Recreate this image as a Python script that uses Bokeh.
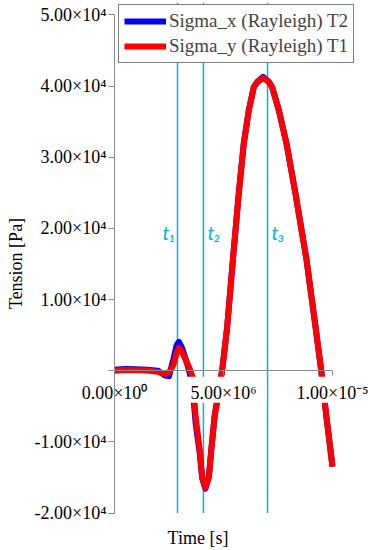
from bokeh.plotting import figure
from bokeh.models import LinearAxis, FixedTicker, Legend, LegendItem, Range1d
from bokeh.core.properties import value
from bokeh.embed import file_html
from bokeh.resources import INLINE

# ---------------- data ----------------
time_us = [0.0, 0.5, 1.0, 1.5, 2.0, 2.3, 2.5, 2.7, 2.85, 2.95,
           3.1, 3.3, 3.45, 3.58, 3.72, 3.91, 4.02, 4.17, 4.33, 4.44,
           4.59, 4.94, 5.17, 5.43, 5.70, 5.93, 6.16, 6.39, 6.55, 6.82,
           7.08, 7.23, 7.54, 7.89, 8.30, 8.81, 9.22, 9.48, 9.72, 10.0]
sigma_x_T2 = [150, 250, 200, 150, 0, -650, -750, 1600, 3600, 4070,
              3200, 1300, -300, -2300, -7300, -11600, -15100, -16550, -14900, -11080,
              -6450, 100, 6210, 15570, 24920, 31930, 36600, 39870, 40600, 41300,
              40600, 39870, 36600, 31930, 24920, 15570, 6210, 140, -6450, -13460]
sigma_y_T1 = [0, 100, 80, 50, -150, -420, -250, 800, 2500, 3230,
              2600, 1300, 300, -840, -6450, -11080, -14870, -16410, -14870, -11080,
              -6450, 100, 6210, 15570, 24920, 31930, 36600, 39870, 40550, 41150,
              40550, 39870, 36600, 31930, 24920, 15570, 6210, 140, -6450, -13460]
time_s = [t * 1e-6 for t in time_us]

t_marks = [2.89e-6, 4.08e-6, 7.02e-6]
t_labels = ["t\u2081", "t\u2082", "t\u2083"]

y_ticks = [-20000, -10000, 0, 10000, 20000, 30000, 40000, 50000]
y_tick_labels = ["-2.00\u00d710\u2074", "-1.00\u00d710\u2074", "", "1.00\u00d710\u2074",
                 "2.00\u00d710\u2074", "3.00\u00d710\u2074", "4.00\u00d710\u2074", "5.00\u00d710\u2074"]
x_ticks = [0.0, 5e-6, 1e-5]
x_tick_labels = ["0.00\u00d710\u2070", "5.00\u00d710\u2076", "1.00\u00d710\u207b\u2075"]

series_names = ["Sigma_x (Rayleigh) T2", "Sigma_y (Rayleigh) T1"]

# ---------------- styles ----------------
SERIF = "Liberation Serif"
AXIS_GRAY = "#8a8a8a"
MARK_BLUE = "#00B0F0"
T_LABEL_Y = 19400
LABEL_BOX_Y = -2665   # centre of the white box behind x tick labels

p = figure(width=368, height=550,
           x_range=Range1d(-3.991e-6, 11.651e-6), y_range=Range1d(-21599, 51753),
           x_axis_location=None, y_axis_location=None,
           output_backend="svg", toolbar_location=None,
           min_border_left=27, min_border_right=0, min_border_top=2, min_border_bottom=25)
p.outline_line_color = None
p.xgrid.visible = False
p.ygrid.visible = False
p.background_fill_color = "white"
p.border_fill_color = "white"

def style_labels(ax):
    ax.major_label_text_font = SERIF
    ax.major_label_text_font_size = "18px"
    ax.major_label_text_color = "black"
    ax.axis_label_text_font = SERIF
    ax.axis_label_text_font_size = "18px"
    ax.axis_label_text_font_style = "normal"
    ax.axis_label_text_color = "black"

# y axis at x = 0
ya = LinearAxis(fixed_location=0, ticker=FixedTicker(ticks=y_ticks, minor_ticks=[]),
                bounds=(y_ticks[0], y_ticks[-1]))
ya.major_label_overrides = {k: v for k, v in zip(y_ticks, y_tick_labels)}
ya.axis_line_color = AXIS_GRAY
ya.major_tick_line_color = AXIS_GRAY
ya.major_tick_out = 6
ya.major_tick_in = 0
ya.minor_tick_line_color = None
ya.major_label_standoff = 2
style_labels(ya)
p.add_layout(ya, "left")

# y axis title
yt = LinearAxis(ticker=FixedTicker(ticks=[], minor_ticks=[]), axis_label="Tension [Pa]")
yt.axis_line_color = None
yt.major_tick_line_color = None
yt.minor_tick_line_color = None
yt.major_tick_out = 0
yt.major_label_standoff = 0
yt.axis_label_standoff = 2
style_labels(yt)
p.add_layout(yt, "left")

# x axis at y = 0
xa = LinearAxis(fixed_location=0, ticker=FixedTicker(ticks=x_ticks, minor_ticks=[]),
                bounds=(x_ticks[0], x_ticks[-1]))
xa.major_label_overrides = {k: v for k, v in zip(x_ticks, x_tick_labels)}
xa.axis_line_color = AXIS_GRAY
xa.major_tick_line_color = AXIS_GRAY
xa.major_tick_out = 5
xa.major_tick_in = 0
xa.minor_tick_line_color = None
xa.major_label_standoff = 7
style_labels(xa)
p.add_layout(xa, "below")

# x axis title
xt = LinearAxis(ticker=FixedTicker(ticks=[], minor_ticks=[]), axis_label="Time [s]")
xt.axis_line_color = None
xt.major_tick_line_color = None
xt.minor_tick_line_color = None
xt.major_tick_out = 0
xt.major_label_standoff = 0
xt.axis_label_standoff = 3
style_labels(xt)
p.add_layout(xt, "below")

# time markers
p.segment(x0=t_marks, x1=t_marks, y0=y_ticks[0], y1=p.y_range.end,
          line_color=MARK_BLUE, line_width=1.5)

# curves
rx = p.line(time_s, sigma_x_T2, line_color="#0000FF", line_width=6, line_join="round")
ry = p.line(time_s, sigma_y_T1, line_color="#FF0000", line_width=6, line_join="round")

# white boxes behind the x tick labels
p.rect(x=x_ticks, y=LABEL_BOX_Y, width=86, height=26, width_units="screen",
       height_units="screen", fill_color="white", line_color=None)

# marker labels
p.text(x=t_marks[:1], y=T_LABEL_Y, text=t_labels[:1], x_offset=-2,
       text_align="right", text_baseline="middle",
       text_font=value("Lato"), text_font_style="italic", text_font_size="19px",
       text_color=MARK_BLUE)
p.text(x=t_marks[1:], y=T_LABEL_Y, text=t_labels[1:], x_offset=4,
       text_align="left", text_baseline="middle",
       text_font=value("Lato"), text_font_style="italic", text_font_size="19px",
       text_color=MARK_BLUE)

legend = Legend(items=[LegendItem(label=series_names[0], renderers=[rx]),
                       LegendItem(label=series_names[1], renderers=[ry])],
                location=(91, 461), padding=5, spacing=3,
                glyph_width=42, glyph_height=20, label_standoff=3, label_height=20,
                label_text_font=SERIF, label_text_font_size="19px",
                border_line_color="black", border_line_width=1,
                background_fill_color="white", background_fill_alpha=1)
p.add_layout(legend)

open("out.html", "w").write(file_html(p, INLINE))
